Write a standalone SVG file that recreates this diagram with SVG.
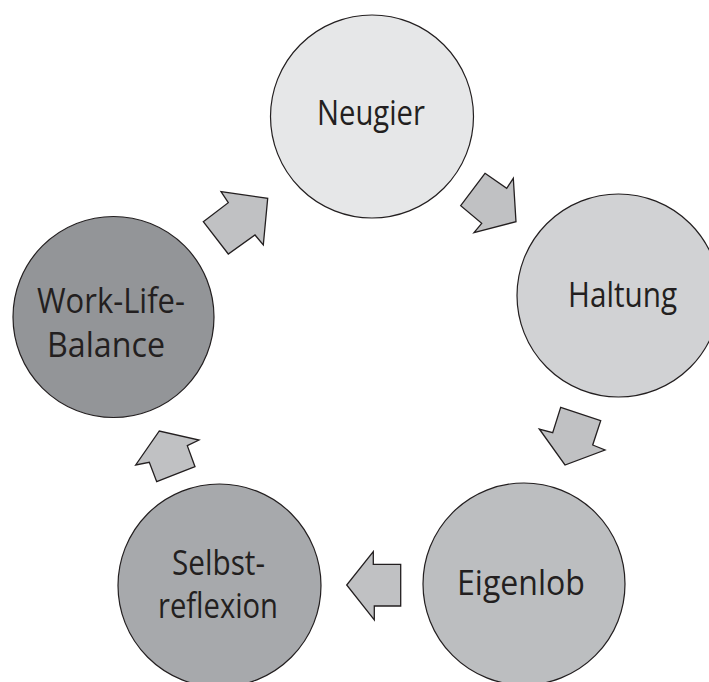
<svg xmlns="http://www.w3.org/2000/svg" width="709" height="682" viewBox="0 0 709 682">
<style>
.node{stroke:#231f20;stroke-width:1.2}
.arrow{fill:#c0c1c3;stroke:#231f20;stroke-width:1.3;stroke-linejoin:miter}
.lbl{font-family:"Open Sans","Noto Sans","Liberation Sans",sans-serif;font-size:35px;fill:#231f20;text-anchor:middle}
</style>
<rect width="709" height="682" fill="#ffffff"/>
<g id="connectors">
<polygon class="arrow" points="485,173.3 506.7,188.3 513.3,178.3 516,221.7 474,232.7 481.7,223.3 460.7,205.7"/>
<polygon class="arrow" points="560.7,407.3 600.7,420.7 592.7,445 605,450 565,465 539.3,429 552.7,432.7"/>
<polygon class="arrow" points="400.7,564.3 400.7,606 374.3,606 374.3,620 346.7,585 373.3,551.7 373.3,564.3"/>
<polygon class="arrow" points="195,466.7 156.7,481.7 149.3,462.3 135.7,465 159.3,431 199,440 187.3,445.7"/>
<polygon class="arrow" points="203.3,221.7 228.3,202.7 221,191.7 267.7,198.3 263.3,245 255,235 228.3,254"/>
</g>
<g id="node-neugier">
<circle class="node" cx="372" cy="116.5" r="101.5" fill="#e6e7e8"/>
<text class="lbl" x="371" y="125" textLength="108" lengthAdjust="spacingAndGlyphs">Neugier</text>
</g>
<g id="node-haltung">
<circle class="node" cx="618.5" cy="295.5" r="101.5" fill="#d1d2d4"/>
<text class="lbl" x="622.5" y="307" textLength="109" lengthAdjust="spacingAndGlyphs">Haltung</text>
</g>
<g id="node-eigenlob">
<circle class="node" cx="524" cy="584" r="101" fill="#bcbec0"/>
<text class="lbl" x="521" y="595" textLength="128" lengthAdjust="spacingAndGlyphs">Eigenlob</text>
</g>
<g id="node-selbstreflexion">
<circle class="node" cx="219.5" cy="585.5" r="101.5" fill="#a7a9ac"/>
<text class="lbl" x="218.5" y="575" textLength="93" lengthAdjust="spacingAndGlyphs">Selbst-</text>
<text class="lbl" x="218" y="618" textLength="120" lengthAdjust="spacingAndGlyphs">reflexion</text>
</g>
<g id="node-work-life-balance">
<circle class="node" cx="113.5" cy="317" r="100.5" fill="#939598"/>
<text class="lbl" x="111" y="313" textLength="148" lengthAdjust="spacingAndGlyphs">Work-Life-</text>
<text class="lbl" x="106" y="357" textLength="118" lengthAdjust="spacingAndGlyphs">Balance</text>
</g>
</svg>
